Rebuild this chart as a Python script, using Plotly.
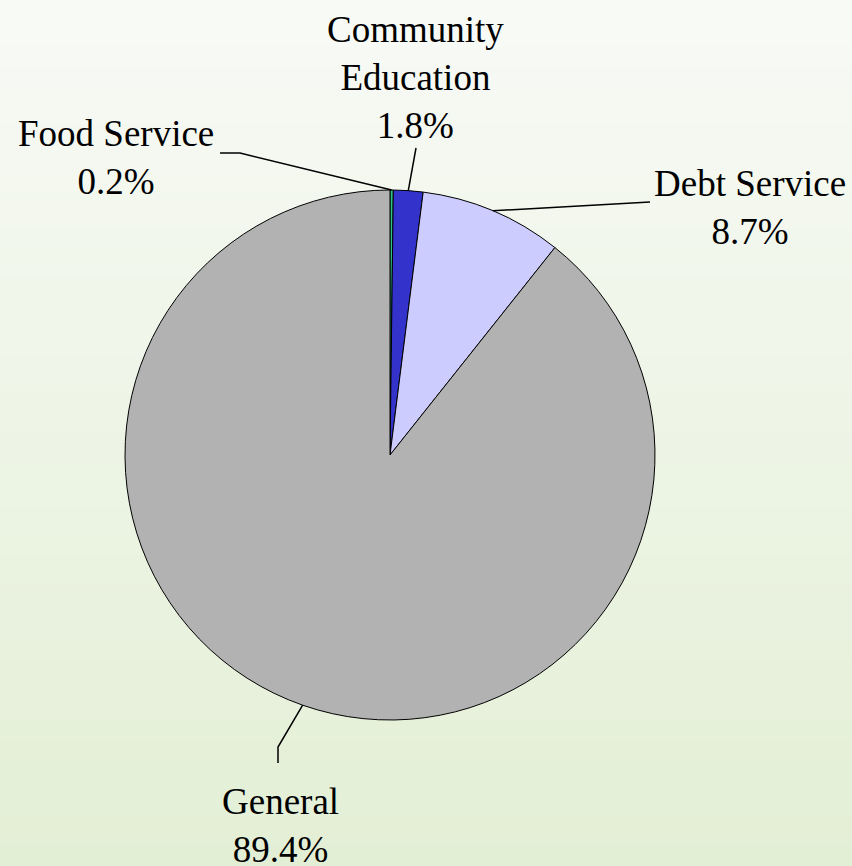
import math
import plotly.graph_objects as go

# ---- data ----
categories = ["Food Service", "Community<br>Education", "Debt Service", "General"]
values = [0.2, 1.8, 8.7, 89.4]
pct_labels = ["0.2%", "1.8%", "8.7%", "89.4%"]
colors = ["#2fc48a", "#3333cc", "#ccccff", "#b2b2b2"]

W, H = 852, 866
# pie domain in paper coords
dx = [125 / W, 655 / W]
dy = [1 - 720 / H, 1 - 190 / H]

fig = go.Figure()
fig.add_trace(go.Pie(
    labels=categories, values=values, sort=False, direction="clockwise",
    rotation=0, marker=dict(colors=colors, line=dict(color="black", width=1.0)),
    textinfo="none", hoverinfo="skip", showlegend=False,
    domain=dict(x=dx, y=dy),
))

# background gradient
top = (248, 250, 246)
bot = (227, 239, 213)
shapes = []
N = 90
for i in range(N):
    t = i / (N - 1)
    c = tuple(round(top[k] + (bot[k] - top[k]) * t) for k in range(3))
    y1 = 1 - i / N
    y0 = 1 - (i + 1) / N
    shapes.append(dict(type="rect", xref="paper", yref="paper", x0=0, x1=1,
                       y0=y0 - 0.002, y1=y1 + 0.002, layer="below",
                       fillcolor="rgb(%d,%d,%d)" % c, line=dict(width=0)))

# pie geometry in pixels
cx = (dx[0] + dx[1]) / 2 * W
cy = (1 - (dy[0] + dy[1]) / 2) * H
r = min((dx[1] - dx[0]) * W, (dy[1] - dy[0]) * H) / 2
total = sum(values)
edges = []
acc = 0
for v in values:
    mid = (acc + v / 2) / total * 2 * math.pi
    acc += v
    edges.append((cx + r * math.sin(mid), cy - r * math.cos(mid)))

def px(x, y):
    return x / W, 1 - y / H

# leader line waypoints (pixel), ending at slice edges
paths = [
    [(220, 153), (240, 153), edges[0]],
    [(416, 148), edges[1]],
    [(650, 202), edges[2]],
    [(278, 763), (278, 747), edges[3]],
]
for p in paths:
    d = ""
    for j, (x, y) in enumerate(p):
        X, Y = px(x, y)
        d += ("M" if j == 0 else "L") + " %f %f " % (X, Y)
    shapes.append(dict(type="path", xref="paper", yref="paper", path=d,
                       line=dict(color="black", width=1.5)))

# label positions (pixel centers)
label_pos = [(116, 157), (415, 77), (750, 208), (280, 825)]
annotations = []
for cat, pl, (x, y) in zip(categories, pct_labels, label_pos):
    X, Y = px(x, y)
    annotations.append(dict(text=cat + "<br>" + pl, x=X, y=Y, xref="paper", yref="paper",
                            xanchor="center", yanchor="middle", showarrow=False,
                            font=dict(family="Liberation Serif", size=37, color="black")))

fig.update_layout(width=W, height=H, margin=dict(l=0, r=0, t=0, b=0),
                  paper_bgcolor="rgb(238,244,230)", shapes=shapes, annotations=annotations)
fig.write_html("out.html", config={"displayModeBar": False},
               post_script="document.body.style.margin='0';document.body.style.overflow='hidden';")
